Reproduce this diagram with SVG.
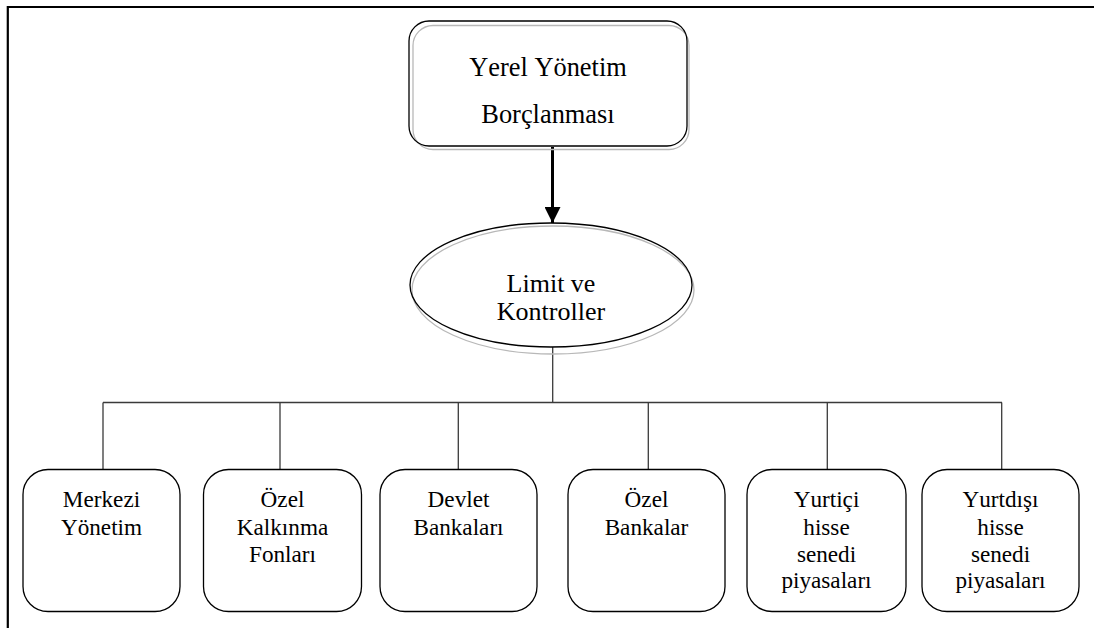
<svg xmlns="http://www.w3.org/2000/svg" width="1094" height="628" viewBox="0 0 1094 628">
  <style>
    .frame { fill: none; stroke: #000; stroke-width: 2.2; }
    .box { fill: #fff; stroke: #000; stroke-width: 1.3; }
    .outline { fill: none; stroke: #000; stroke-width: 1.3; }
    .halo { fill: none; stroke: #b8b8b8; stroke-width: 1.3; }
    .wire { fill: none; stroke: #3a3a3a; stroke-width: 1.3; }
    .arrow { fill: none; stroke: #000; stroke-width: 3; }
    text { font-family: 'Liberation Serif', 'Times New Roman', serif; font-kerning: none; fill: #000; text-anchor: middle; }
    .big { font-size: 26.4px; }
    .mid { font-size: 26px; }
    .small { font-size: 23.2px; }
  </style>
  <defs>
    <marker id="head" viewBox="0 0 16 16" refX="16" refY="8" markerWidth="16" markerHeight="16" markerUnits="userSpaceOnUse" orient="auto">
      <path d="M0,0 L16,8 L0,16 Z" fill="#000"/>
    </marker>
  </defs>

  <!-- page frame (top and left rules) -->
  <path class="frame" d="M7.8,628 V7 H1094"/>

  <!-- connectors -->
  <g id="connectors">
    <line class="arrow" x1="552.5" y1="147" x2="552.5" y2="223" marker-end="url(#head)"/>
    <line class="wire" x1="552.7" y1="347" x2="552.7" y2="402.5"/>
    <line class="wire" x1="103" y1="402.5" x2="1002" y2="402.5"/>
    <line class="wire" x1="103" y1="402.5" x2="103" y2="469.5"/>
    <line class="wire" x1="280" y1="402.5" x2="280" y2="469.5"/>
    <line class="wire" x1="458.3" y1="402.5" x2="458.3" y2="469.5"/>
    <line class="wire" x1="648.3" y1="402.5" x2="648.3" y2="469.5"/>
    <line class="wire" x1="827.3" y1="402.5" x2="827.3" y2="469.5"/>
    <line class="wire" x1="1001.7" y1="402.5" x2="1001.7" y2="469.5"/>
  </g>

  <!-- root -->
  <g id="node-borclanma">
    <rect class="halo" x="413" y="25.5" width="276" height="124" rx="20"/>
    <rect class="outline" x="409" y="21" width="278" height="125" rx="20"/>
    <text class="big" x="548" y="76">Yerel Yönetim</text>
    <text class="big" x="548" y="122.7">Borçlanması</text>
  </g>

  <!-- limits -->
  <g id="node-limit">
    <ellipse class="halo" cx="553" cy="290" rx="141" ry="64"/>
    <ellipse class="outline" cx="551" cy="285" rx="141" ry="62"/>
    <text class="mid" x="551" y="291.7">Limit ve</text>
    <text class="mid" x="551" y="320">Kontroller</text>
  </g>

  <!-- funding sources -->
  <g id="node-merkezi">
    <rect class="box" x="23" y="469.5" width="157" height="142" rx="25"/>
    <text class="small" x="101.5" y="506.7">Merkezi</text>
    <text class="small" x="101.5" y="535">Yönetim</text>
  </g>
  <g id="node-kalkinma">
    <rect class="box" x="203.5" y="469.5" width="158" height="142" rx="25"/>
    <text class="small" x="282.5" y="506.7">Özel</text>
    <text class="small" x="282.5" y="535">Kalkınma</text>
    <text class="small" x="282.5" y="562">Fonları</text>
  </g>
  <g id="node-devlet">
    <rect class="box" x="380" y="469.5" width="157" height="142" rx="25"/>
    <text class="small" x="458.5" y="506.7">Devlet</text>
    <text class="small" x="458.5" y="535">Bankaları</text>
  </g>
  <g id="node-ozel">
    <rect class="box" x="568" y="469.5" width="157" height="142" rx="25"/>
    <text class="small" x="646.5" y="506.7">Özel</text>
    <text class="small" x="646.5" y="535">Bankalar</text>
  </g>
  <g id="node-yurtici">
    <rect class="box" x="747" y="469.5" width="159" height="142" rx="25"/>
    <text class="small" x="826.5" y="506.7">Yurtiçi</text>
    <text class="small" x="826.5" y="535">hisse</text>
    <text class="small" x="826.5" y="561.7">senedi</text>
    <text class="small" x="826.5" y="588.3">piyasaları</text>
  </g>
  <g id="node-yurtdisi">
    <rect class="box" x="922" y="469.5" width="157" height="142" rx="25"/>
    <text class="small" x="1000.5" y="506.7">Yurtdışı</text>
    <text class="small" x="1000.5" y="535">hisse</text>
    <text class="small" x="1000.5" y="561.7">senedi</text>
    <text class="small" x="1000.5" y="588.3">piyasaları</text>
  </g>
</svg>
